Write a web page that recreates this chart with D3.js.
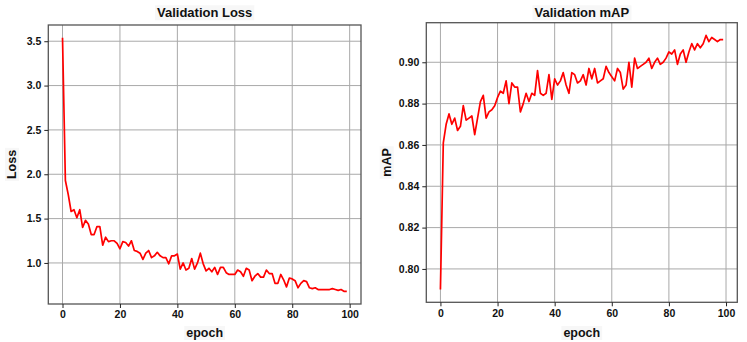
<!DOCTYPE html>
<html>
<head>
<meta charset="utf-8">
<script src="https://cdn.jsdelivr.net/npm/d3@7"></script>
<style>
  body { margin: 0; background: #fff; }
  text { font-family: "Liberation Sans", Arial, sans-serif; font-weight: bold; fill: #111; }
</style>
</head>
<body>
<svg id="canvas" width="747" height="342"></svg>
<script>
// validation loss per epoch
var lossValues = [
  3.54, 1.93, 1.77, 1.58, 1.60, 1.51, 1.60, 1.40, 1.48, 1.44,
  1.32, 1.32, 1.41, 1.41, 1.20, 1.29, 1.24, 1.25, 1.25, 1.22,
  1.16, 1.24, 1.23, 1.19, 1.25, 1.14, 1.13, 1.11, 1.04, 1.11,
  1.14, 1.06, 1.08, 1.12, 1.08, 1.06, 1.06, 0.99, 1.08, 1.08,
  1.10, 0.93, 1.00, 0.92, 0.94, 1.05, 0.93, 1.00, 1.11, 0.99,
  0.91, 0.94, 0.90, 0.95, 0.87, 0.95, 0.95, 0.89, 0.87, 0.87,
  0.87, 0.92, 0.90, 0.85, 0.94, 0.92, 0.80, 0.85, 0.88, 0.84,
  0.84, 0.92, 0.88, 0.88, 0.77, 0.77, 0.87, 0.81, 0.73, 0.83,
  0.82, 0.80, 0.72, 0.77, 0.80, 0.79, 0.72, 0.71, 0.72, 0.70,
  0.70, 0.70, 0.70, 0.70, 0.71, 0.70, 0.69, 0.70, 0.68, 0.68
];

// validation mAP per epoch
var mapValues = [
  0.790, 0.861, 0.870, 0.875, 0.870, 0.873, 0.867, 0.869, 0.879, 0.872,
  0.873, 0.874, 0.865, 0.873, 0.881, 0.884, 0.873, 0.876, 0.877, 0.879,
  0.883, 0.886, 0.885, 0.891, 0.880, 0.890, 0.888, 0.888, 0.876, 0.880,
  0.885, 0.881, 0.885, 0.884, 0.896, 0.885, 0.884, 0.885, 0.894, 0.882,
  0.892, 0.889, 0.891, 0.895, 0.889, 0.885, 0.895, 0.894, 0.890, 0.891,
  0.894, 0.889, 0.897, 0.892, 0.897, 0.890, 0.891, 0.892, 0.898, 0.895,
  0.893, 0.891, 0.897, 0.895, 0.887, 0.889, 0.900, 0.888, 0.902, 0.897,
  0.898, 0.899, 0.900, 0.902, 0.897, 0.900, 0.902, 0.899, 0.900, 0.902,
  0.905, 0.904, 0.906, 0.899, 0.904, 0.906, 0.900, 0.905, 0.909, 0.906,
  0.909, 0.907, 0.909, 0.913, 0.910, 0.912, 0.911, 0.910, 0.911, 0.911
];

var epochTicks = [0, 20, 40, 60, 80, 100];
var lossTicks = [1.0, 1.5, 2.0, 2.5, 3.0, 3.5];
var mapTicks = [0.80, 0.82, 0.84, 0.86, 0.88, 0.90];

// matplotlib-style 5% padding around the data
function padded(lo, hi) {
  var m = (hi - lo) * 0.05;
  return [lo - m, hi + m];
}

function drawPanel(opts) {
  var svg = d3.select('#canvas');
  var g = svg.append('g').attr('id', opts.id);
  var values = opts.values;

  var x = d3
    .scaleLinear()
    .domain(padded(0, values.length - 1))
    .range([opts.left, opts.right]);
  var y = d3
    .scaleLinear()
    .domain(padded(d3.min(values), d3.max(values)))
    .range([opts.bottom, opts.top]);

  // grid
  g.selectAll('line.vgrid')
    .data(opts.xTicks)
    .enter()
    .append('line')
    .attr('class', 'vgrid')
    .attr('x1', d => x(d))
    .attr('x2', d => x(d))
    .attr('y1', opts.top)
    .attr('y2', opts.bottom)
    .style('stroke', '#a9a9a9')
    .style('stroke-width', 1);

  g.selectAll('line.hgrid')
    .data(opts.yTicks)
    .enter()
    .append('line')
    .attr('class', 'hgrid')
    .attr('x1', opts.left)
    .attr('x2', opts.right)
    .attr('y1', d => y(d))
    .attr('y2', d => y(d))
    .style('stroke', '#a9a9a9')
    .style('stroke-width', 1);

  // the curve
  var line = d3
    .line()
    .x((d, i) => x(i))
    .y(d => y(d));
  g.append('path')
    .datum(values)
    .attr('d', line)
    .style('fill', 'none')
    .style('stroke', '#ff0000')
    .style('stroke-width', 1.7)
    .style('stroke-linejoin', 'round');

  // frame
  g.append('rect')
    .attr('x', opts.left)
    .attr('y', opts.top)
    .attr('width', opts.right - opts.left)
    .attr('height', opts.bottom - opts.top)
    .style('fill', 'none')
    .style('stroke', '#555')
    .style('stroke-width', 1.3);

  // axes
  var xAxis = d3
    .axisBottom(x)
    .tickValues(opts.xTicks)
    .tickSize(4)
    .tickPadding(3)
    .tickFormat(d3.format('d'));
  var gx = g
    .append('g')
    .attr('transform', `translate(0, ${opts.bottom})`)
    .call(xAxis);

  var yAxis = d3
    .axisLeft(y)
    .tickValues(opts.yTicks)
    .tickSize(4)
    .tickPadding(3)
    .tickFormat(d3.format(opts.yFormat));
  var gy = g
    .append('g')
    .attr('transform', `translate(${opts.left}, 0)`)
    .call(yAxis);

  [gx, gy].forEach(a => {
    a.select('.domain').remove();
    a.selectAll('.tick line').style('stroke', '#222').style('stroke-width', 1);
    a.selectAll('.tick text')
      .style('font-size', '10.5px')
      .style('font-family', '"Liberation Sans", Arial, sans-serif')
      .style('font-weight', 'bold')
      .style('fill', '#111');
  });

  var midX = (opts.left + opts.right) / 2;
  var midY = (opts.top + opts.bottom) / 2;

  labelWithBox(g, opts.title, midX, 12.7, 13, 0);
  labelWithBox(g, 'epoch', midX, 332.7, 12.5, 0);
  labelWithBox(g, opts.yLabel, opts.yLabelX, midY, 12.5, -90);
}

// text with the faint box that sits behind labels in the picture
function labelWithBox(g, txt, cx, cy, size, angle) {
  var holder = g
    .append('g')
    .attr('transform', `translate(${cx}, ${cy}) rotate(${angle})`);
  var bg = holder.append('rect');
  var t = holder
    .append('text')
    .attr('text-anchor', 'middle')
    .attr('dy', '0.35em')
    .style('font-size', size + 'px')
    .text(txt);
  var box = t.node().getBBox();
  bg.attr('x', box.x - 2)
    .attr('y', box.y)
    .attr('width', box.width + 4)
    .attr('height', box.height)
    .style('fill', '#f7f7f7');
}

drawPanel({
  id: 'lossPanel',
  values: lossValues,
  title: 'Validation Loss',
  yLabel: 'Loss',
  yLabelX: 11.7,
  xTicks: epochTicks,
  yTicks: lossTicks,
  yFormat: '.1f',
  left: 48.3,
  right: 361,
  top: 25,
  bottom: 304,
});

drawPanel({
  id: 'mapPanel',
  values: mapValues,
  title: 'Validation mAP',
  yLabel: 'mAP',
  yLabelX: 386.3,
  xTicks: epochTicks,
  yTicks: mapTicks,
  yFormat: '.2f',
  left: 426.3,
  right: 737.3,
  top: 22.7,
  bottom: 302.3,
});
</script>
</body>
</html>
